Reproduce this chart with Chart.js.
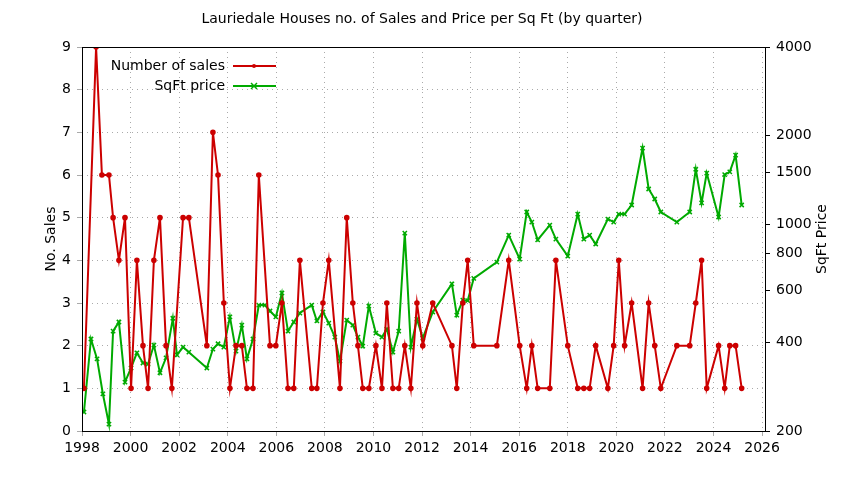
<!DOCTYPE html>
<html>
<head>
<meta charset="utf-8">
<script src="https://cdn.jsdelivr.net/npm/chart.js@4/dist/chart.umd.min.js"></script>
<style>
  body { margin: 0; background: #fff; }
  #wrap { width: 844px; height: 480px; }
</style>
</head>
<body>
<div id="wrap"><canvas id="c"></canvas></div>
<script>
// data
const salesYears = [1998.08, 1998.58, 1998.82, 1999.11, 1999.28, 1999.52, 1999.77, 2000.02, 2000.26, 2000.51,
  2000.72, 2000.96, 2001.21, 2001.46, 2001.70, 2002.16, 2002.40, 2003.14, 2003.39, 2003.60,
  2003.84, 2004.09, 2004.34, 2004.58, 2004.79, 2005.04, 2005.28, 2005.74, 2005.98, 2006.23,
  2006.48, 2006.72, 2006.97, 2007.46, 2007.67, 2007.92, 2008.16, 2008.62, 2008.90, 2009.15,
  2009.36, 2009.56, 2009.81, 2010.10, 2010.35, 2010.55, 2010.80, 2011.04, 2011.29, 2011.54,
  2011.79, 2012.03, 2012.44, 2013.23, 2013.43, 2013.68, 2013.88, 2014.13, 2015.08, 2015.57,
  2016.02, 2016.31, 2016.52, 2016.76, 2017.26, 2017.51, 2018.00, 2018.41, 2018.66, 2018.90,
  2019.15, 2019.65, 2019.89, 2020.10, 2020.34, 2020.63, 2021.08, 2021.33, 2021.58, 2021.83,
  2022.49, 2023.02, 2023.27, 2023.51, 2023.72, 2024.21, 2024.46, 2024.67, 2024.91, 2025.16];
const salesCounts = [1, 9, 6, 6, 5, 4, 5, 1, 4, 2,
  1, 4, 5, 2, 1, 5, 5, 2, 7, 6,
  3, 1, 2, 2, 1, 1, 6, 2, 2, 3,
  1, 1, 4, 1, 1, 3, 4, 1, 5, 3,
  2, 1, 1, 2, 1, 3, 1, 1, 2, 1,
  3, 2, 3, 2, 1, 3, 4, 2, 2, 4,
  2, 1, 2, 1, 1, 4, 2, 1, 1, 1,
  2, 1, 2, 4, 2, 3, 1, 3, 2, 1,
  2, 2, 3, 4, 1, 2, 1, 2, 2, 1];

const priceYears = [1998.08, 1998.37, 1998.62, 1998.86, 1999.11, 1999.28, 1999.52, 1999.77, 2000.02, 2000.26,
  2000.51, 2000.72, 2000.96, 2001.21, 2001.46, 2001.74, 2001.91, 2002.16, 2002.40, 2003.14,
  2003.39, 2003.60, 2003.84, 2004.09, 2004.34, 2004.58, 2004.79, 2005.04, 2005.28, 2005.53,
  2005.74, 2005.98, 2006.23, 2006.48, 2006.72, 2006.97, 2007.46, 2007.67, 2007.92, 2008.16,
  2008.41, 2008.62, 2008.90, 2009.15, 2009.36, 2009.56, 2009.81, 2010.10, 2010.35, 2010.55,
  2010.80, 2011.04, 2011.29, 2011.54, 2011.79, 2012.03, 2012.44, 2013.23, 2013.43, 2013.68,
  2013.88, 2014.13, 2015.08, 2015.57, 2016.02, 2016.31, 2016.52, 2016.76, 2017.26, 2017.51,
  2018.00, 2018.41, 2018.66, 2018.90, 2019.15, 2019.65, 2019.89, 2020.10, 2020.34, 2020.63,
  2021.08, 2021.33, 2021.58, 2021.83, 2022.49, 2023.02, 2023.27, 2023.51, 2023.72, 2024.21,
  2024.46, 2024.67, 2024.91, 2025.16];
const prices = [232, 410, 351, 267, 211, 436, 468, 293, 327, 368,
  340, 337, 391, 315, 354, 482, 362, 385, 370, 327,
  379, 395, 385, 487, 373, 457, 351, 410, 534, 534,
  510, 487, 587, 436, 468, 502, 534, 472, 506, 464,
  416, 345, 475, 457, 416, 388, 530, 429, 416, 443,
  370, 436, 937, 385, 479, 413, 506, 630, 494, 555,
  553, 658, 747, 922, 765, 1104, 1021, 888, 997, 894,
  783, 1086, 894, 922, 860, 1044, 1021, 1086, 1086, 1166,
  1818, 1321, 1222, 1104, 1021, 1104, 1541, 1185, 1496, 1062,
  1477, 1510, 1720, 1166];

const xTicks = [1998, 2000, 2002, 2004, 2006, 2008, 2010, 2012, 2014, 2016, 2018, 2020, 2022, 2024, 2026];
const priceTicks = [200, 400, 600, 800, 1000, 1500, 2000, 4000];

const FONT = 'DejaVu Sans';
Chart.defaults.font.family = FONT;
Chart.defaults.font.size = 14;
Chart.defaults.color = '#000';

const toPts = (xs, ys) => xs.map((x, i) => ({ x: x, y: ys[i] }));

// gnuplot-ish title, frame, axis labels and key
const decor = {
  id: 'decor',
  afterDraw(chart) {
    const { ctx, chartArea: a } = chart;
    ctx.save();
    ctx.strokeStyle = '#000';
    ctx.lineWidth = 1;
    ctx.strokeRect(a.left + 0.5, a.top + 0.5, a.right - a.left, a.bottom - a.top);
    ctx.fillStyle = '#000';
    ctx.font = '14px ' + FONT;
    ctx.textAlign = 'center';
    ctx.textBaseline = 'middle';
    ctx.fillText('Lauriedale Houses no. of Sales and Price per Sq Ft (by quarter)', 422, 19);
    const mid = (a.top + a.bottom) / 2;
    ctx.save(); ctx.translate(51, mid); ctx.rotate(-Math.PI / 2);
    ctx.fillText('No. Sales', 0, 0); ctx.restore();
    ctx.save(); ctx.translate(822, mid); ctx.rotate(-Math.PI / 2);
    ctx.fillText('SqFt Price', 0, 0); ctx.restore();
    const items = [['Number of sales', '#cc0000', 'circle'], ['SqFt price', '#00aa00', 'x']];
    items.forEach((it, i) => {
      const y = 66 + i * 20;
      ctx.textAlign = 'right';
      ctx.fillStyle = '#000';
      ctx.fillText(it[0], 225, y);
      ctx.strokeStyle = it[1];
      ctx.lineWidth = 2;
      ctx.beginPath(); ctx.moveTo(233, y); ctx.lineTo(276, y); ctx.stroke();
      ctx.fillStyle = it[1];
      if (it[2] === 'circle') {
        ctx.beginPath(); ctx.arc(254, y, 2, 0, Math.PI * 2); ctx.fill();
      } else {
        ctx.lineWidth = 1.5;
        ctx.beginPath();
        ctx.moveTo(251, y - 3); ctx.lineTo(257, y + 3);
        ctx.moveTo(257, y - 3); ctx.lineTo(251, y + 3);
        ctx.stroke();
      }
    });
    ctx.restore();
  }
};

new Chart(document.getElementById('c'), {
  type: 'line',
  data: {
    datasets: [{
      label: 'Number of sales',
      data: toPts(salesYears, salesCounts),
      yAxisID: 'y',
      borderColor: '#cc0000',
      backgroundColor: '#cc0000',
      borderWidth: 2,
      pointRadius: 1.8,
      pointStyle: 'circle',
      tension: 0
    }, {
      label: 'SqFt price',
      data: toPts(priceYears, prices),
      yAxisID: 'y2',
      borderColor: '#00aa00',
      backgroundColor: '#00aa00',
      borderWidth: 2,
      pointRadius: 3,
      pointBorderWidth: 1.5,
      pointStyle: 'crossRot',
      tension: 0
    }]
  },
  options: {
    responsive: true,
    maintainAspectRatio: false,
    animation: false,
    layout: { padding: { top: 47, left: 0, right: 0, bottom: 0 } },
    plugins: { legend: { display: false }, tooltip: { enabled: false } },
    scales: {
      x: {
        type: 'linear',
        min: 1998,
        max: 2026.12,
        afterBuildTicks: s => { s.ticks = xTicks.map(v => ({ value: v })); },
        afterFit: s => { s.height = 49; },
        ticks: { callback: v => String(v), maxRotation: 0, padding: 4 },
        grid: { color: '#aaa', tickLength: 5 },
        border: { display: false, dash: [1, 4] }
      },
      y: {
        position: 'left',
        min: 0,
        max: 9,
        ticks: { stepSize: 1, padding: 6 },
        afterFit: s => { s.width = 82; },
        grid: { color: '#aaa', tickLength: 5 },
        border: { display: false, dash: [1, 4] }
      },
      y2: {
        position: 'right',
        type: 'logarithmic',
        min: 200,
        max: 4000,
        afterBuildTicks: s => { s.ticks = priceTicks.map(v => ({ value: v })); },
        afterFit: s => { s.width = 79; },
        ticks: { callback: v => String(v), padding: 6 },
        grid: { drawOnChartArea: false, tickLength: 5, color: '#000' },
        border: { display: false }
      }
    }
  },
  plugins: [decor]
});
</script>
</body>
</html>
